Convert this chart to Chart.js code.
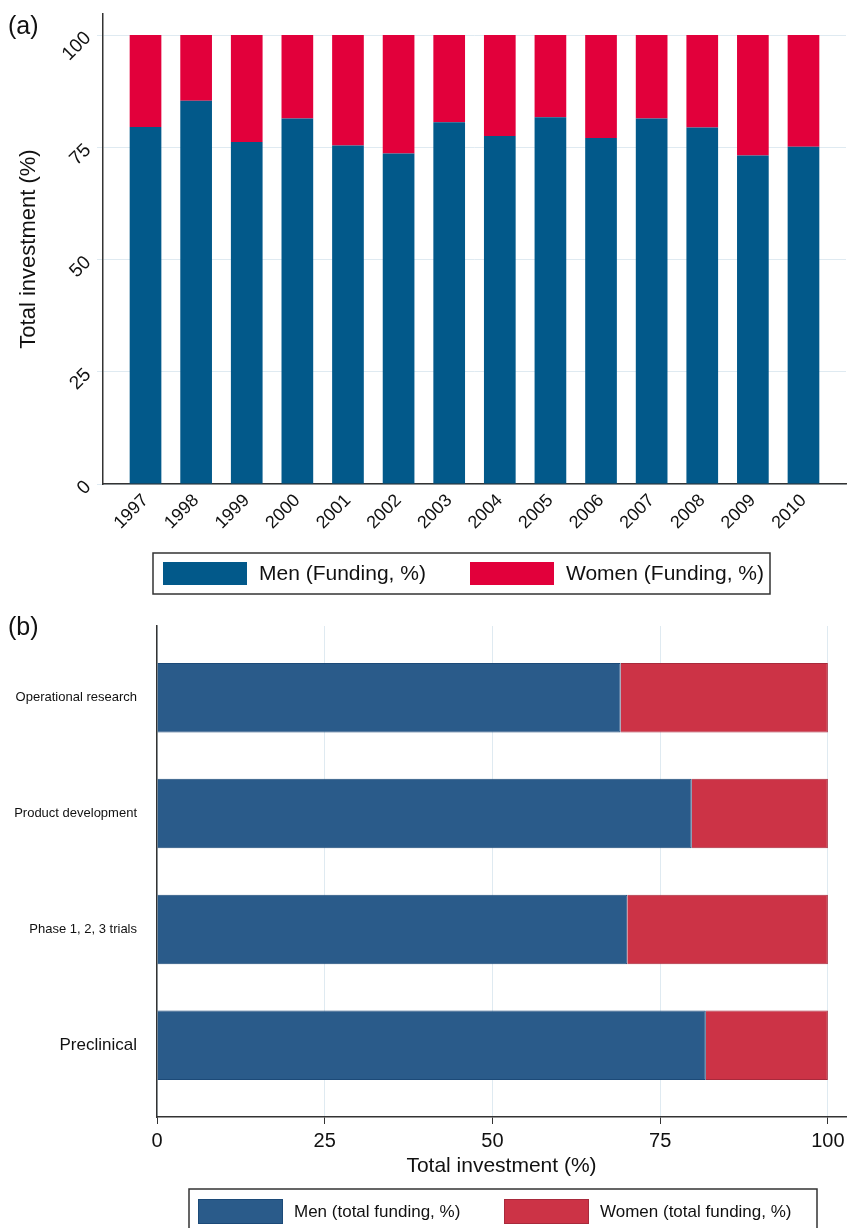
<!DOCTYPE html>
<html>
<head>
<meta charset="utf-8">
<script src="https://cdn.jsdelivr.net/npm/chart.js@4.4.1/dist/chart.umd.min.js"></script>
<style>
    html, body { margin: 0; padding: 0; background: #fff; overflow: hidden; }
    body { width: 848px; height: 1228px; position: relative; font-family: "Liberation Sans", Arial, sans-serif; }
    .wrap { position: absolute; left: 0; width: 848px; }
    #wrapA { top: 0; height: 604px; }
    #wrapB { top: 604px; height: 640px; }
    .panel { position: absolute; left: 8px; font-size: 25px; line-height: 1; color: #111; }
</style>
</head>
<body>
<div class="wrap" id="wrapA"><canvas id="chartA" width="848" height="604"></canvas></div>
<div class="wrap" id="wrapB"><canvas id="chartB" width="848" height="640"></canvas></div>
<div class="panel" style="top:13px">(a)</div>
<div class="panel" style="top:614px">(b)</div>
<script>
    const FONT = '"Liberation Sans", Arial, Helvetica, sans-serif';

    // panel (a): share of funding by year
    const years = ["1997", "1998", "1999", "2000", "2001", "2002", "2003",
        "2004", "2005", "2006", "2007", "2008", "2009", "2010"];
    const menByYear = [79.5, 85.4, 76.2, 81.4, 75.4, 73.6, 80.6, 77.5, 81.7, 77.1, 81.4, 79.4, 73.2, 75.1];
    const womenByYear = [20.5, 14.6, 23.8, 18.6, 24.6, 26.4, 19.4, 22.5, 18.3, 22.9, 18.6, 20.6, 26.8, 24.9];
    const yearTicks = [0, 25, 50, 75, 100];

    // panel (b): share of funding by research stage
    const stages = ["Operational research", "Product development", "Phase 1, 2, 3 trials", "Preclinical"];
    const menByStage = [69.1, 79.7, 70.1, 81.8];
    const womenByStage = [30.9, 20.3, 29.9, 18.2];
    const stageTicks = [0, 25, 50, 75, 100];

    // label sizes differ in the original figure
    const stageFontSize = [13, 13, 13, 17];

    // pin a scale's size and drop the auto padding for overhanging labels
    function fitTo(prop, size) {
        return function (scale) {
            scale[prop] = size;
            scale.paddingTop = 0;
            scale.paddingBottom = 0;
            scale.paddingLeft = 0;
            scale.paddingRight = 0;
        };
    }

    // legend inside a framed box, like the Stata one
    const boxLegend = {
        id: "boxLegend",
        afterDraw(chart, args, opts) {
            let ctx = chart.ctx;
            ctx.save();
            ctx.strokeStyle = "#333";
            ctx.lineWidth = 1.5;
            ctx.strokeRect(opts.frame[0], opts.frame[1], opts.frame[2], opts.frame[3]);
            ctx.font = opts.fontSize + "px " + FONT;
            ctx.textBaseline = "middle";
            chart.data.datasets.forEach((ds, i) => {
                let x = opts.itemX[i];
                ctx.fillStyle = ds.backgroundColor;
                ctx.fillRect(x, opts.swatchY, opts.swatchW, opts.swatchH);
                if (ds.borderWidth) {
                    ctx.strokeStyle = ds.borderColor;
                    ctx.lineWidth = 1;
                    ctx.strokeRect(x + 0.5, opts.swatchY + 0.5, opts.swatchW - 1, opts.swatchH - 1);
                }
                ctx.fillStyle = "#111";
                ctx.fillText(ds.label, x + opts.swatchW + opts.gap, opts.swatchY + opts.swatchH / 2 + 1);
            });
            ctx.restore();
        }
    };

    new Chart(document.getElementById("chartA"), {
        type: "bar",
        data: {
            datasets: [{
                label: "Men (Funding, %)",
                data: menByYear.map((v, i) => ({ x: i, y: v })),
                backgroundColor: "#02598a"
            }, {
                label: "Women (Funding, %)",
                data: womenByYear.map((v, i) => ({ x: i, y: v })),
                backgroundColor: "#e2003b"
            }]
        },
        options: {
            responsive: false,
            animation: false,
            layout: { padding: { top: 14, right: 2, bottom: 60, left: 0 } },
            datasets: { bar: { barPercentage: 0.626, categoryPercentage: 1 } },
            plugins: {
                legend: { display: false },
                tooltip: { enabled: false },
                boxLegend: {
                    frame: [153, 553, 617, 41],
                    itemX: [163, 470],
                    swatchY: 562, swatchW: 84, swatchH: 23,
                    gap: 12, fontSize: 21
                }
            },
            scales: {
                x: {
                    type: "linear",
                    stacked: true,
                    offset: false,
                    min: -0.84,
                    max: 13.84,
                    grid: { display: false, drawTicks: false, offset: false },
                    border: { color: "#333", width: 1.5 },
                    ticks: {
                        minRotation: 45, maxRotation: 45, autoSkip: false, padding: 6,
                        color: "#111", font: { family: FONT, size: 18 },
                        callback: v => years[v]
                    },
                    afterBuildTicks: s => { s.ticks = years.map((y, i) => ({ value: i })); },
                    afterFit: fitTo("height", 60)
                },
                y: {
                    stacked: true,
                    min: 0,
                    max: 104.7,
                    grid: { color: "#dfeaf1", tickLength: 6 },
                    border: { color: "#333", width: 1.5 },
                    ticks: {
                        minRotation: 45, maxRotation: 45, padding: 9,
                        color: "#111", font: { family: FONT, size: 19 }
                    },
                    afterBuildTicks: s => { s.ticks = yearTicks.map(v => ({ value: v })); },
                    title: {
                        display: true, text: "Total investment (%)", color: "#111",
                        font: { family: FONT, size: 22 }, padding: { top: 16, bottom: 0 }
                    },
                    afterFit: fitTo("width", 103)
                }
            }
        },
        plugins: [boxLegend]
    });

    new Chart(document.getElementById("chartB"), {
        type: "bar",
        data: {
            datasets: [{
                label: "Men (total funding, %)",
                data: menByStage.map((v, i) => ({ x: v, y: i })),
                backgroundColor: "#2a5b8a",
                borderColor: "#1c4a78",
                borderWidth: 1
            }, {
                label: "Women (total funding, %)",
                data: womenByStage.map((v, i) => ({ x: v, y: i })),
                backgroundColor: "#cc3346",
                borderColor: "#a82a3c",
                borderWidth: 1
            }]
        },
        options: {
            indexAxis: "y",
            responsive: false,
            animation: false,
            layout: { padding: { top: 22, right: 2, bottom: 57, left: 0 } },
            datasets: { bar: { barPercentage: 0.6, categoryPercentage: 1 } },
            plugins: {
                legend: { display: false },
                tooltip: { enabled: false },
                boxLegend: {
                    frame: [189, 585, 628, 50],
                    itemX: [198, 504],
                    swatchY: 595, swatchW: 85, swatchH: 25,
                    gap: 11, fontSize: 17
                }
            },
            scales: {
                x: {
                    type: "linear",
                    stacked: true,
                    min: 0,
                    max: 102.7,
                    grid: { color: "#dfeaf1", tickColor: "#333", tickLength: 7 },
                    border: { color: "#333", width: 1.5 },
                    ticks: { padding: 5, color: "#111", font: { family: FONT, size: 20 } },
                    afterBuildTicks: s => { s.ticks = stageTicks.map(v => ({ value: v })); },
                    title: {
                        display: true, text: "Total investment (%)", color: "#111",
                        font: { family: FONT, size: 21 }, padding: { top: 2, bottom: 8 }
                    },
                    afterFit: fitTo("height", 70)
                },
                y: {
                    type: "linear",
                    stacked: true,
                    reverse: true,
                    offset: false,
                    min: -0.62,
                    max: 3.62,
                    grid: { display: false, drawTicks: false, offset: false },
                    border: { color: "#333", width: 1.5 },
                    ticks: {
                        padding: 20,
                        color: "#111",
                        font: c => ({ family: FONT, size: stageFontSize[c.index] || 13 }),
                        callback: v => stages[v]
                    },
                    afterBuildTicks: s => { s.ticks = stages.map((st, i) => ({ value: i })); },
                    afterFit: fitTo("width", 157)
                }
            }
        },
        plugins: [boxLegend]
    });
</script>
</body>
</html>
